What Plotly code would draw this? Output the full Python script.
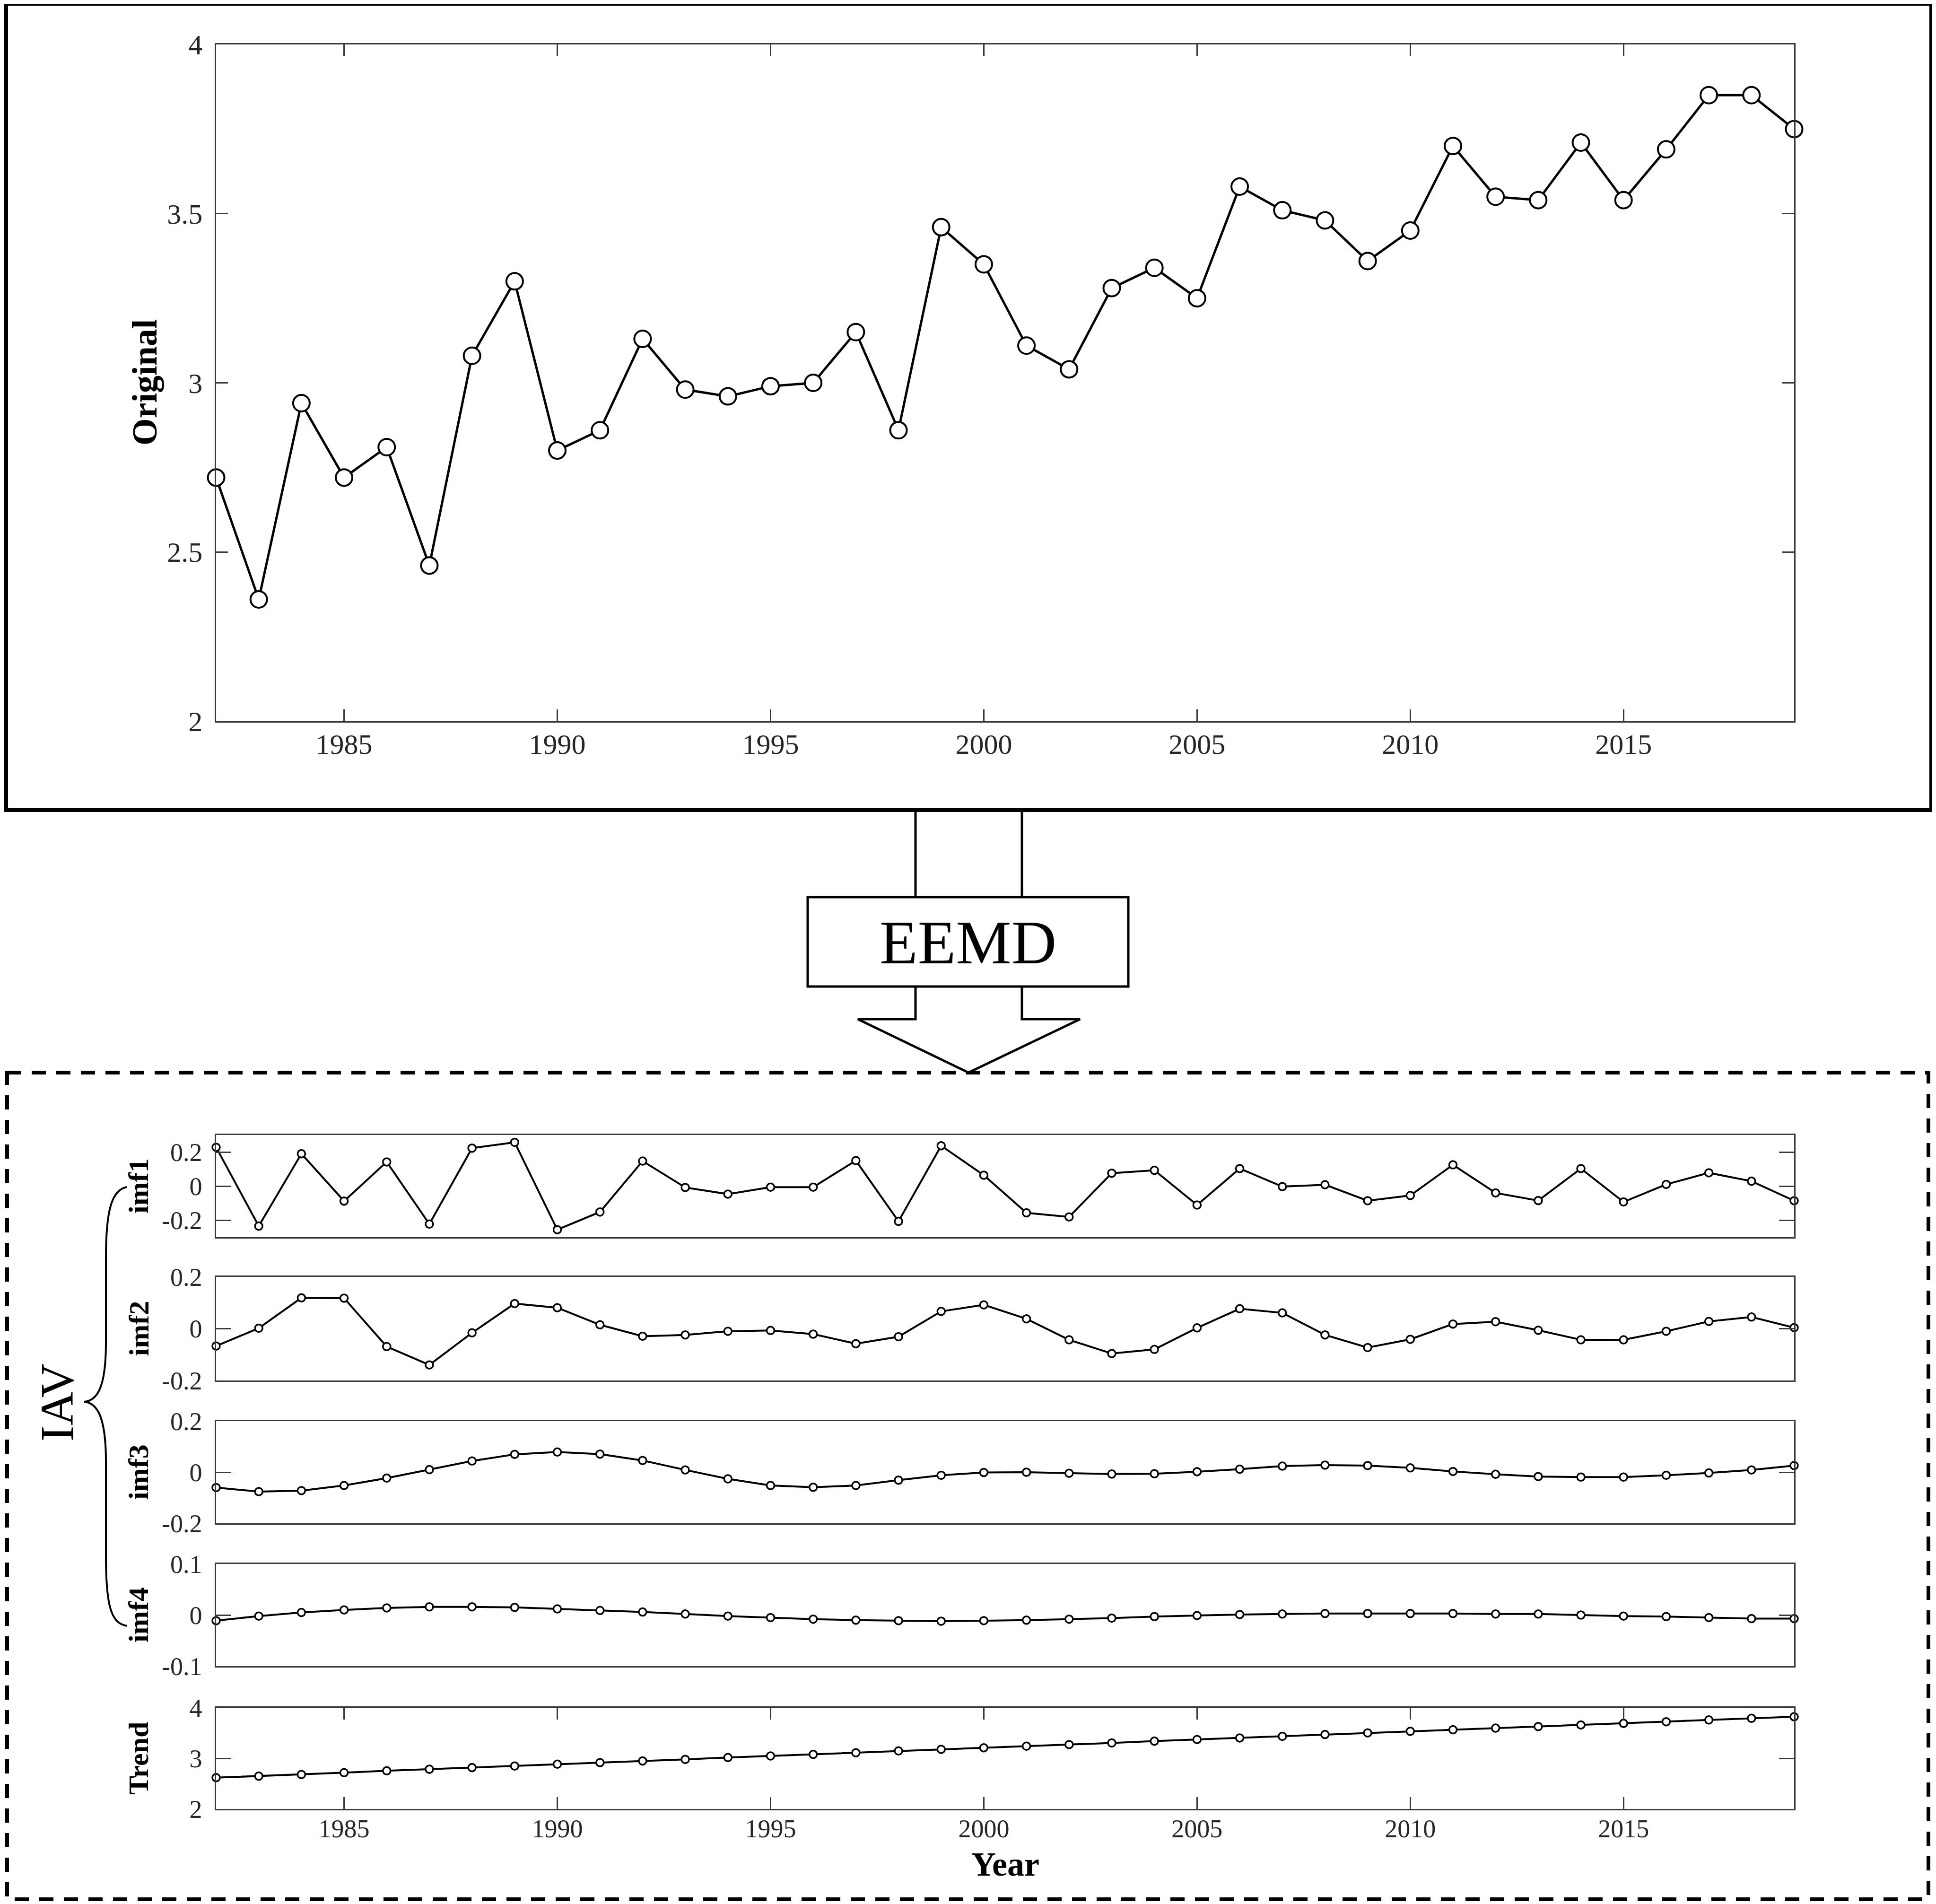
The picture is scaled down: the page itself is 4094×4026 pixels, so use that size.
"""EEMD decomposition figure: original series on top, IMFs and trend below."""

import plotly.graph_objects as go

# ── Data ─────────────────────────────────────────────────────────────────────

years = list(range(1982, 2020))

original = [2.72, 2.36, 2.94, 2.72, 2.81, 2.46, 3.08, 3.30, 2.80, 2.86,
            3.13, 2.98, 2.96, 2.99, 3.00, 3.15, 2.86, 3.46, 3.35, 3.11,
            3.04, 3.28, 3.34, 3.25, 3.58, 3.51, 3.48, 3.36, 3.45, 3.70,
            3.55, 3.54, 3.71, 3.54, 3.69, 3.85, 3.85, 3.75]

imf1 = [0.228, -0.235, 0.19, -0.088, 0.142, -0.223, 0.223, 0.257, -0.256, -0.152,
        0.147, -0.008, -0.047, -0.006, -0.006, 0.15, -0.207, 0.237, 0.064, -0.157,
        -0.181, 0.076, 0.093, -0.111, 0.103, -0.003, 0.008, -0.086, -0.055, 0.125,
        -0.04, -0.085, 0.103, -0.093, 0.01, 0.078, 0.029, -0.086]

imf2 = [-0.067, 0.002, 0.119, 0.118, -0.069, -0.14, -0.016, 0.097, 0.081, 0.015,
        -0.029, -0.024, -0.01, -0.007, -0.021, -0.058, -0.031, 0.067, 0.092, 0.038,
        -0.043, -0.096, -0.08, 0.003, 0.077, 0.061, -0.024, -0.073, -0.041, 0.018,
        0.027, -0.006, -0.043, -0.043, -0.01, 0.028, 0.045, 0.004]

imf3 = [-0.060, -0.076, -0.072, -0.052, -0.023, 0.010, 0.044, 0.070, 0.079, 0.071,
        0.046, 0.009, -0.026, -0.052, -0.059, -0.052, -0.031, -0.012, -0.001, 0.0,
        -0.004, -0.007, -0.006, 0.002, 0.012, 0.024, 0.028, 0.026, 0.017, 0.003,
        -0.008, -0.017, -0.019, -0.019, -0.012, -0.003, 0.009, 0.026]

imf4 = [-0.011, -0.002, 0.005, 0.010, 0.014, 0.016, 0.016, 0.015, 0.012, 0.009,
        0.006, 0.002, -0.002, -0.005, -0.008, -0.010, -0.011, -0.012, -0.011, -0.010,
        -0.008, -0.006, -0.003, -0.001, 0.001, 0.002, 0.003, 0.003, 0.003, 0.003,
        0.002, 0.002, 0.0, -0.002, -0.003, -0.005, -0.007, -0.007]

trend = [2.618, 2.649, 2.681, 2.717, 2.754, 2.785, 2.817, 2.848, 2.885, 2.916,
         2.948, 2.979, 3.016, 3.047, 3.079, 3.110, 3.147, 3.178, 3.209, 3.241,
         3.272, 3.304, 3.340, 3.372, 3.403, 3.435, 3.471, 3.503, 3.534, 3.565,
         3.597, 3.628, 3.660, 3.691, 3.723, 3.759, 3.791, 3.822]

x_ticks = [1985, 1990, 1995, 2000, 2005, 2010, 2015]
top_yticks = [2, 2.5, 3, 3.5, 4]
top_ytext = ["2", "2.5", "3", "3.5", "4"]

# name, values, y range, tick values, tick text
panels = [
    ("imf1", imf1, [-0.3, 0.3], [-0.2, 0, 0.2], ["-0.2", "0", "0.2"]),
    ("imf2", imf2, [-0.2, 0.2], [-0.2, 0, 0.2], ["-0.2", "0", "0.2"]),
    ("imf3", imf3, [-0.2, 0.2], [-0.2, 0, 0.2], ["-0.2", "0", "0.2"]),
    ("imf4", imf4, [-0.1, 0.1], [-0.1, 0, 0.1], ["-0.1", "0", "0.1"]),
    ("Trend", trend, [2, 4], [2, 3, 4], ["2", "3", "4"]),
]

# ── Geometry (pixels of the 4094 x 4026 page) ────────────────────────────────

W, H = 4094, 4026
BODY = 8  # default page margin around the plot div
FONT = "Liberation Serif, Times New Roman, serif"
FRAME = "#3a3a3a"
TICK_TEXT = "#262626"

PLOT_X = (457, 3794)
TOP_Y = (94, 1525)
PANEL_Y = [(2400, 2616), (2700, 2919), (3005, 3221), (3307, 3523), (3611, 3825)]


def px(x):
    return (x - BODY) / W


def py(y):
    return 1 - (y - BODY) / H


def path(points):
    return "M " + " L ".join(f"{px(x):.5f},{py(y):.5f}" for x, y in points)


def axis_common(size):
    return dict(
        showline=True, linecolor=FRAME, linewidth=2.5, mirror="ticks",
        showgrid=False, zeroline=False, ticks="inside", tickcolor=FRAME,
        tickwidth=2.5, automargin=False,
        tickfont=dict(family=FONT, color=TICK_TEXT, size=size),
    )


fig = go.Figure()

# ── Top panel ────────────────────────────────────────────────────────────────

fig.add_trace(go.Scatter(
    x=years, y=original, mode="lines+markers", xaxis="x", yaxis="y",
    line=dict(color="black", width=5),
    marker=dict(symbol="circle", size=35, color="white", line=dict(color="black", width=4)),
    cliponaxis=False, showlegend=False,
))

layout = dict(
    width=W, height=H, margin=dict(l=0, r=0, t=0, b=0, pad=0),
    paper_bgcolor="white", plot_bgcolor="white", showlegend=False,
    xaxis=dict(**axis_common(60), domain=[px(PLOT_X[0]), px(PLOT_X[1])], range=[1982, 2019],
               tickvals=x_ticks, ticklen=25, ticklabelstandoff=-6, anchor="y"),
    yaxis=dict(**axis_common(60), domain=[py(TOP_Y[1]), py(TOP_Y[0])], range=[2, 4],
               tickvals=top_yticks, ticktext=top_ytext, ticklen=25,
               ticklabelstandoff=14, anchor="x"),
)

# ── Decomposition panels ─────────────────────────────────────────────────────

for i, (name, values, yrange, tvals, ttext) in enumerate(panels):
    k = i + 2
    fig.add_trace(go.Scatter(
        x=years, y=values, mode="lines+markers", xaxis=f"x{k}", yaxis=f"y{k}",
        line=dict(color="black", width=4),
        marker=dict(symbol="circle", size=16, color="white", line=dict(color="black", width=3.5)),
        cliponaxis=False, showlegend=False,
    ))
    top, bottom = PANEL_Y[i]
    is_last = i == len(panels) - 1
    layout[f"xaxis{k}"] = dict(
        **axis_common(54), domain=[px(PLOT_X[0]), px(PLOT_X[1])], range=[1982, 2019],
        anchor=f"y{k}", tickvals=x_ticks if is_last else [],
        showticklabels=is_last, ticklen=25, ticklabelstandoff=-8,
    )
    layout[f"yaxis{k}"] = dict(
        **axis_common(54), domain=[py(bottom), py(top)], range=yrange,
        tickvals=tvals, ticktext=ttext, ticklen=32, ticklabelstandoff=16,
        anchor=f"x{k}",
    )

fig.update_layout(**layout)

# ── Labels ───────────────────────────────────────────────────────────────────

annotations = [
    dict(x=px(306), y=py(809), text="<b>Original</b>", textangle=-90,
         font=dict(family=FONT, size=74, color="black")),
    dict(x=px(2047), y=py(1992), text="EEMD",
         font=dict(family=FONT, size=132, color="black")),
    dict(x=px(120), y=py(2966), text="IAV", textangle=-90,
         font=dict(family=FONT, size=100, color="black")),
    dict(x=px(2126), y=py(3942), text="<b>Year</b>",
         font=dict(family=FONT, size=72, color="black")),
]
for i, (name, *_rest) in enumerate(panels):
    top, bottom = PANEL_Y[i]
    annotations.append(dict(
        x=px(293), y=py((top + bottom) / 2), text=f"<b>{name}</b>", textangle=-90,
        font=dict(family=FONT, size=60, color="black"),
    ))
for a in annotations:
    a.update(xref="paper", yref="paper", showarrow=False, xanchor="center", yanchor="middle")
fig.update_layout(annotations=annotations)

# ── Frames, arrow and brace ──────────────────────────────────────────────────

brace = (
    f"M {px(268):.5f},{py(2510):.5f} "
    f"C {px(236):.5f},{py(2516):.5f} {px(224):.5f},{py(2560):.5f} {px(224):.5f},{py(2660):.5f} "
    f"L {px(224):.5f},{py(2840):.5f} "
    f"C {px(224):.5f},{py(2935):.5f} {px(205):.5f},{py(2962):.5f} {px(178):.5f},{py(2964):.5f} "
    f"C {px(205):.5f},{py(2966):.5f} {px(224):.5f},{py(2995):.5f} {px(224):.5f},{py(3090):.5f} "
    f"L {px(224):.5f},{py(3290):.5f} "
    f"C {px(224):.5f},{py(3400):.5f} {px(236):.5f},{py(3432):.5f} {px(268):.5f},{py(3438):.5f}"
)

shapes = [
    dict(type="rect", x0=px(13), y0=py(8), x1=px(4084), y1=py(1713),
         line=dict(color="black", width=8)),
    dict(type="rect", x0=px(15), y0=py(2268), x1=px(4078), y1=py(4016),
         line=dict(color="black", width=8, dash="30px,22px")),
    dict(type="path", path=path([(1936, 1716), (1936, 1897)]), line=dict(color="black", width=5)),
    dict(type="path", path=path([(2161, 1716), (2161, 1897)]), line=dict(color="black", width=5)),
    dict(type="rect", x0=px(1708), y0=py(1897), x1=px(2386), y1=py(2086),
         fillcolor="white", line=dict(color="black", width=5), layer="below"),
    dict(type="path", path=path([(1936, 2086), (1936, 2155), (1814, 2155), (2048, 2268),
                                 (2284, 2155), (2161, 2155), (2161, 2086)]),
         line=dict(color="black", width=5)),
    dict(type="path", path=brace, line=dict(color="black", width=4)),
]
for s in shapes:
    s.update(xref="paper", yref="paper")
fig.update_layout(shapes=shapes)

fig.write_html("out.html")
